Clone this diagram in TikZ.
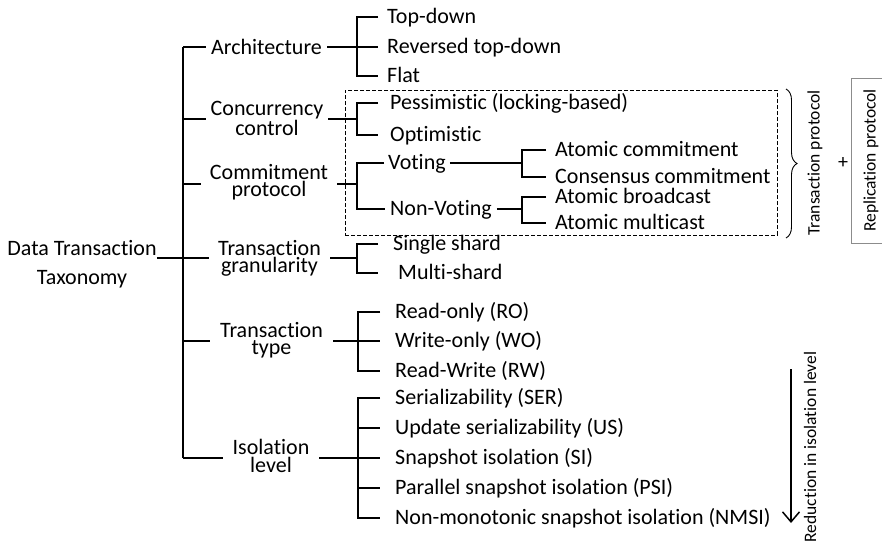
\documentclass[tikz,border=0pt]{standalone}
\usepackage{fontspec}
\setmainfont{Carlito}[Ligatures=NoCommon]
\usetikzlibrary{arrows.meta,decorations.pathreplacing}
\begin{document}
\begin{tikzpicture}[x=1pt,y=-1pt,
  tree/.style={line width=1.8pt,line join=miter},
  cat/.style={align=center,inner sep=0pt,font=\fontsize{22}{17.5}\selectfont},
  leaf/.style={anchor=west,inner ysep=0pt,text height=13.6pt,text depth=0pt,font=\fontsize{22}{22}\selectfont},
  side/.style={font=\fontsize{17.5}{17.5}\selectfont,rotate=90,inner sep=0pt},
  bracebox/.style={draw,dashed,line width=0.8pt,dash pattern=on 4pt off 2pt,inner sep=0pt},
  curly/.style={decorate,decoration={brace,amplitude=11pt},line width=0.9pt},
  repbox/.style={draw=black!45,line width=1pt,rotate=90,inner sep=0pt,font=\fontsize{17.5}{17.5}\selectfont}]
\useasboundingbox (0,0) rectangle (882,547);

% root
\node[align=center,inner sep=0pt,font=\fontsize{22}{29}\selectfont] (root) at (82,264) {Data Transaction\\Taxonomy};

% trunk
\coordinate (mA) at (183,47);
\coordinate (mC) at (183,119);
\coordinate (mM) at (183,184);
\coordinate (mG) at (183,258);
\coordinate (mT) at (183,341);
\coordinate (mI) at (183,458);
\draw[tree] (mA) -- (mI);
\draw[tree] (root.east |- mG) -- (mG);

% Architecture
\node[cat,minimum width=121pt] (arch) at (266.5,47) {Architecture};
\coordinate (jA) at (357,47);
\node[leaf,inner xsep=9pt] (a1) at (378,17) {Top-down};
\node[leaf,inner xsep=9pt] (a2) at (378,47) {Reversed top-down};
\node[leaf,inner xsep=9pt] (a3) at (378,76) {Flat};
\draw[tree] (mA) -- (arch.west |- mA);
\draw[tree] (arch.east |- jA) -- (jA);
\draw[tree] (a1.west) -- (jA |- a1) -- (jA |- a3) -- (a3.west);
\draw[tree] (jA |- a2) -- (a2.west);

% Concurrency control
\node[cat,minimum width=122pt] (conc) at (267,118.5) {Concurrency\\control};
\coordinate (jC) at (357,119);
\node[leaf,inner xsep=12pt] (c1) at (378,103) {Pessimistic (locking-based)};
\node[leaf,inner xsep=12pt] (c2) at (378,135) {Optimistic};
\draw[tree] (mC) -- (conc.west |- mC);
\draw[tree] (conc.east |- jC) -- (jC);
\draw[tree] (c1.west) -- (jC |- c1) -- (jC |- c2) -- (c2.west);

% Commitment protocol
\node[cat,minimum width=136pt] (comm) at (269,182.3) {Commitment\\protocol};
\coordinate (jM) at (357,184);
\node[leaf,inner xsep=4pt] (vote) at (384,163) {Voting};
\node[leaf,inner xsep=5pt] (nvote) at (385,209) {Non-Voting};
\draw[tree] (mM) -- (comm.west |- mM);
\draw[tree] (comm.east |- jM) -- (jM);
\draw[tree] (vote.west) -- (jM |- vote) -- (jM |- nvote) -- (nvote.west);

\coordinate (jV) at (522,163);
\node[leaf,inner xsep=9pt] (v1) at (546,150) {Atomic commitment};
\node[leaf,inner xsep=9pt] (v2) at (546,177) {Consensus commitment};
\draw[tree] (vote.east) -- (jV);
\draw[tree] (v1.west) -- (jV |- v1) -- (jV |- v2) -- (v2.west);

\coordinate (jN) at (522,209);
\node[leaf,inner xsep=9pt] (n1) at (546,197) {Atomic broadcast};
\node[leaf,inner xsep=9pt] (n2) at (546,223) {Atomic multicast};
\draw[tree] (nvote.east) -- (jN);
\draw[tree] (n1.west) -- (jN |- n1) -- (jN |- n2) -- (n2.west);

% Transaction granularity
\node[cat,minimum width=121pt] (gran) at (269.5,258.3) {Transaction\\granularity};
\coordinate (jG) at (357,258);
\node[leaf,inner xsep=15pt] (g1) at (378,244) {Single shard};
\node[leaf,inner xsep=20pt] (g2) at (378,273) {Multi-shard};
\draw[tree] (mG) -- (gran.west |- mG);
\draw[tree] (gran.east |- jG) -- (jG);
\draw[tree] (g1.west) -- (jG |- g1) -- (jG |- g2) -- (g2.west);

% Transaction type
\node[cat,minimum width=123pt] (ttype) at (271.5,340.3) {Transaction\\type};
\coordinate (jT) at (358,341);
\node[leaf,inner xsep=15pt] (t1) at (380,312) {Read-only (RO)};
\node[leaf,inner xsep=15pt] (t2) at (380,341) {Write-only (WO)};
\node[leaf,inner xsep=15pt] (t3) at (380,371) {Read-Write (RW)};
\draw[tree] (mT) -- (ttype.west |- mT);
\draw[tree] (ttype.east |- jT) -- (jT);
\draw[tree] (t1.west) -- (jT |- t1) -- (jT |- t3) -- (t3.west);
\draw[tree] (jT |- t2) -- (t2.west);

% Isolation level
\node[cat,minimum width=96pt] (iso) at (271,456) {Isolation\\level};
\coordinate (jI) at (358,458);
\node[leaf,inner xsep=15pt] (i1) at (380,398) {Serializability (SER)};
\node[leaf,inner xsep=15pt] (i2) at (380,428) {Update serializability (US)};
\node[leaf,inner xsep=15pt] (i3) at (380,458) {Snapshot isolation (SI)};
\node[leaf,inner xsep=15pt] (i4) at (380,488) {Parallel snapshot isolation (PSI)};
\node[leaf,inner xsep=15pt] (i5) at (380,518) {Non-monotonic snapshot isolation (NMSI)};
\draw[tree] (mI) -- (iso.west |- mI);
\draw[tree] (iso.east |- jI) -- (jI);
\draw[tree] (i1.west) -- (jI |- i1) -- (jI |- i5) -- (i5.west);
\foreach \n in {i2,i3,i4} \draw[tree] (jI |- \n) -- (\n.west);

% Transaction protocol grouping
\node[bracebox,minimum width=432pt,minimum height=145pt] (tpbox) at (561,162.5) {};
\coordinate (brT) at (786,89);
\coordinate (brB) at (786,238);
\draw[curly] (brT) -- (brB);
\node[side] (tp) at (815,163) {Transaction protocol};
\node[font=\fontsize{20}{20}\selectfont,inner sep=0pt] (plus) at (843,163) {+};
\node[repbox,minimum width=165pt,minimum height=40pt] (rp) at (871,160.5) {Replication protocol};

% isolation arrow
\coordinate (arT) at (791,369);
\coordinate (arB) at (791,523);
\draw[line width=1.5pt,-{Straight Barb[length=10pt,width=17pt]}] (arT) -- (arB);
\node[side] (red) at (810,447) {Reduction in isolation level};
\end{tikzpicture}
\end{document}
